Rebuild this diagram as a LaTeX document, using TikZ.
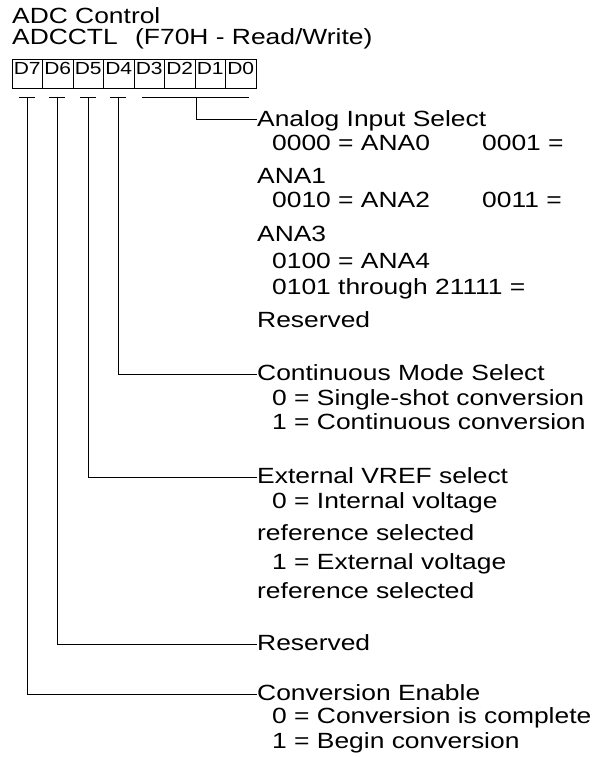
\documentclass[tikz,border=0pt]{standalone}
\usepackage{fontspec}
\setmainfont{Liberation Sans}[FakeStretch=1.2]
\begin{document}
\begin{tikzpicture}[x=1pt,y=-1pt,
  txt/.style={anchor=base west, inner sep=0pt, font=\fontsize{22}{26}\selectfont},
  head/.style={anchor=west, inner sep=0pt, text height=12pt, text depth=0pt, font=\fontsize{22}{26}\selectfont},
  cell/.style={draw, line width=1pt, minimum width=30.5pt, inner xsep=0pt, inner ysep=0pt,
               text height=15pt, text depth=14pt, font=\fontsize{17.5}{20}\selectfont},
  wire/.style={line width=1pt}]
\useasboundingbox (0,0) rectangle (597,757);

% title
\node[txt] (title1) at (12,24) {ADC Control};
\node[txt] (title2) at (12,44.5) {\makebox[123pt][l]{ADCCTL}(F70H - Read/Write)};

% bit cells
\node[cell] (c7) at (27.25,74.5) {D7};
\node[cell] (c6) at (57.75,74.5) {D6};
\node[cell] (c5) at (88.25,74.5) {D5};
\node[cell] (c4) at (118.75,74.5) {D4};
\node[cell] (c3) at (149.25,74.5) {D3};
\node[cell] (c2) at (179.75,74.5) {D2};
\node[cell] (c1) at (210.25,74.5) {D1};
\node[cell] (c0) at (240.75,74.5) {D0};

% tick coordinates
\coordinate (t7) at (27,98);
\coordinate (t6) at (57,98);
\coordinate (t5) at (88,98);
\coordinate (t4) at (118,98);
\coordinate (t30) at (196,98);

\draw[wire] ([xshift=-8pt]t7) -- ([xshift=8pt]t7);
\draw[wire] ([xshift=-8pt]t6) -- ([xshift=8pt]t6);
\draw[wire] ([xshift=-8pt]t5) -- ([xshift=8pt]t5);
\draw[wire] ([xshift=-8pt]t4) -- ([xshift=8pt]t4);
\draw[wire] ([xshift=-54pt]t30) -- ([xshift=53pt]t30);

% Analog Input Select
\node[head] (h30) at (257,120) {Analog Input Select};
\node[txt] (a1) at (272,150) {\makebox[210pt][l]{0000 = ANA0}0001 =};
\node[txt] (a2) at (257,183) {ANA1};
\node[txt] (a3) at (272,207) {\makebox[210pt][l]{0010 = ANA2}0011 =};
\node[txt] (a4) at (257,241) {ANA3};
\node[txt] (a5) at (272,268) {0100 = ANA4};
\node[txt] (a6) at (272,294) {0101 through 21111 =};
\node[txt] (a7) at (257,327) {Reserved};

% Continuous Mode Select
\node[head] (h4) at (257,374) {Continuous Mode Select};
\node[txt] (b1) at (272,405) {0 = Single-shot conversion};
\node[txt] (b2) at (272,429) {1 = Continuous conversion};

% External VREF select
\node[head] (h5) at (257,477) {External VREF select};
\node[txt] (e1) at (272,508) {0 = Internal voltage};
\node[txt] (e2) at (257,540) {reference selected};
\node[txt] (e3) at (272,569) {1 = External voltage};
\node[txt] (e4) at (257,598) {reference selected};

% Reserved
\node[head] (h6) at (257,644) {Reserved};

% Conversion Enable
\node[head] (h7) at (257,694) {Conversion Enable};
\node[txt] (d1) at (272,723) {0 = Conversion is complete};
\node[txt] (d2) at (272,748) {1 = Begin conversion};

% connectors
\draw[wire] (t30) |- (h30.west);
\draw[wire] (t4) |- (h4.west);
\draw[wire] (t5) |- (h5.west);
\draw[wire] (t6) |- (h6.west);
\draw[wire] (t7) |- (h7.west);
\end{tikzpicture}
\end{document}
